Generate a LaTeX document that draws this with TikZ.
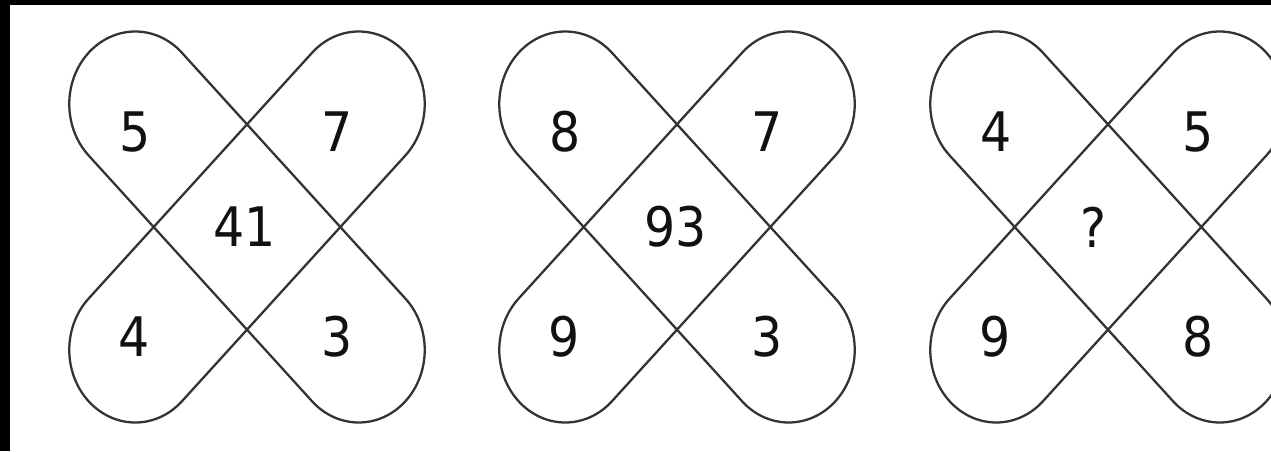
\documentclass[tikz,border=0pt]{standalone}
\usepackage{fontspec}
\setmainfont{DejaVu Sans Condensed}
\usetikzlibrary{positioning}
\definecolor{Ink}{HTML}{333333}
\definecolor{Digit}{HTML}{111111}

\tikzset{
  petal/.style={draw=Ink, line width=1.3pt},
  num/.style={text=Digit, inner sep=0pt, font=\fontsize{31}{31}\selectfont},
}

\begin{document}
\begin{tikzpicture}[x=0.02cm, y=0.02cm]
    \useasboundingbox (0,0) rectangle (1271,451);
    \clip (0,0) rectangle (1271,451);
    \fill[black] (0,0) rectangle (10,451);
    \fill[black] (0,446) rectangle (1271,451);
    % one crossed pair of loops per puzzle
    \foreach \cx/\dx/\tl/\tr/\mnum/\bl/\br [count=\i] in {247/-2/5/7/41/4/3, 677/-1/8/7/93/9/3, 1108/-15/4/5/?/9/8} {
      \begin{scope}[shift={(\cx,224)}, yscale=1.1]
        \draw[petal, rotate=45] (-158,-66) -- (158,-66) arc (-90:90:66) -- (-158,66) arc (90:270:66) -- cycle;
        \draw[petal, rotate=-45] (-158,-66) -- (158,-66) arc (-90:90:66) -- (-158,66) arc (90:270:66) -- cycle;
      \end{scope}
      \node[num] (mid\i) at (\cx+\dx,224) {\mnum};
      \node[num] (tl\i) at (\cx-112,319) {\tl};
      \node[num] (tr\i) at (\cx+90,319) {\tr};
      \node[num] (bl\i) at (\cx-113,114) {\bl};
      \node[num] (br\i) at (\cx+90,114) {\br};
    }
  \end{tikzpicture}
\end{document}
